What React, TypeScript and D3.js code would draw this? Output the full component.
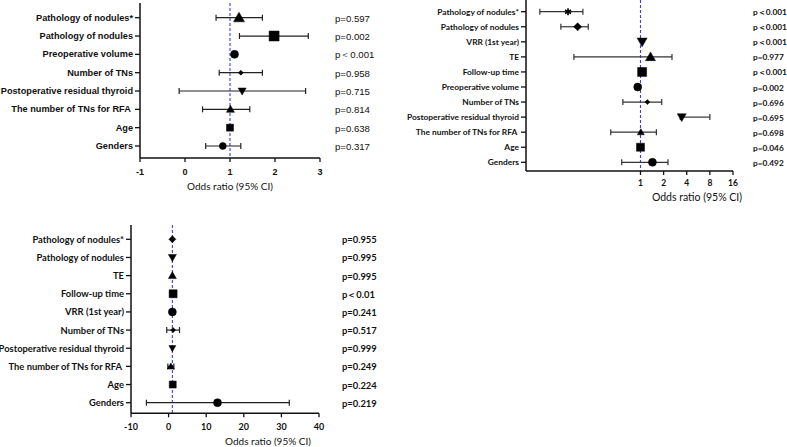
import React from "react";
import * as d3 from "d3";

// ---- Panel A: linear odds-ratio scale ----
const labelsA = [
  "Pathology of nodules*",
  "Pathology of nodules",
  "Preoperative volume",
  "Number of TNs",
  "Postoperative residual thyroid",
  "The number of TNs for RFA ",
  "Age",
  "Genders",
];
const orA = [1.2, 1.98, 1.1, 1.24, 1.27, 1.01, 1.0, 0.84];
const loA: (number | null)[] = [0.69, 1.21, null, 0.76, -0.13, 0.39, null, 0.46];
const hiA: (number | null)[] = [1.72, 2.74, null, 1.72, 2.68, 1.44, null, 1.24];
const pA = ["p=0.597", "p=0.002", "p＜0.001", "p=0.958", "p=0.715", "p=0.814", "p=0.638", "p=0.317"];
const ticksA = [-1, 0, 1, 2, 3];

// ---- Panel B: log2 odds-ratio scale ----
const labelsB = [
  "Pathology of nodules*",
  "Pathology of nodules",
  "VRR (1st year)",
  "TE",
  "Follow-up time",
  "Preoperative volume",
  "Number of TNs",
  "Postoperative residual thyroid",
  "The number of TNs for RFA ",
  "Age",
  "Genders",
];
const orB = [0.114, 0.152, 1.05, 1.35, 1.05, 0.92, 1.23, 3.44, 1.01, 1.0, 1.43];
const loB: (number | null)[] = [0.049, 0.092, null, 0.136, null, null, 0.59, 3.3, 0.41, null, 0.57];
const hiB: (number | null)[] = [0.178, 0.209, null, 2.57, null, null, 1.89, 8.0, 1.61, null, 2.28];
const pB = ["p＜0.001", "p＜0.001", "p＜0.001", "p=0.977", "p＜0.001", "p=0.002", "p=0.696", "p=0.695", "p=0.698", "p=0.046", "p=0.492"];
const ticksB = [1, 2, 4, 8, 16];

// ---- Panel C: linear odds-ratio scale, wide range ----
const labelsC = [
  "Pathology of nodules*",
  "Pathology of nodules",
  "TE",
  "Follow-up time",
  "VRR (1st year)",
  "Number of TNs",
  "Postoperative residual thyroid",
  "The number of TNs for RFA ",
  "Age",
  "Genders",
];
const orC = [1.0, 1.0, 1.0, 1.2, 1.0, 1.2, 1.0, 0.6, 1.1, 13.0];
const loC: (number | null)[] = [null, null, null, null, null, -0.5, null, -0.2, null, -5.9];
const hiC: (number | null)[] = [null, null, null, null, null, 2.9, null, 1.4, null, 32.1];
const pC = ["p=0.955", "p=0.995", "p=0.995", "p＜0.01", "p=0.241", "p=0.517", "p=0.999", "p=0.249", "p=0.224", "p=0.219"];
const ticksC = [-10, 0, 10, 20, 30, 40];

type Shape = "square" | "circle" | "triangle" | "triangleDown" | "diamond" | "asterisk";
type Marker = [Shape, number];

// marker glyph and width for each row
const markersA: Marker[] = [
  ["triangle", 11], ["square", 10], ["circle", 8], ["diamond", 5],
  ["triangleDown", 8], ["triangle", 8], ["square", 7], ["circle", 7],
];
const markersB: Marker[] = [
  ["asterisk", 7], ["diamond", 8], ["triangleDown", 10], ["triangle", 10], ["square", 9],
  ["circle", 8], ["diamond", 5], ["triangleDown", 9], ["triangle", 7], ["square", 8], ["circle", 8],
];
const markersC: Marker[] = [
  ["diamond", 7], ["triangleDown", 8], ["triangle", 8], ["square", 8], ["circle", 8],
  ["diamond", 5], ["triangleDown", 7], ["triangle", 7], ["square", 7], ["circle", 8],
];

function glyph(shape: Shape, w: number): string {
  const h = w / 2;
  switch (shape) {
    case "square":
      return `M${-h},${-h}H${h}V${h}H${-h}Z`;
    case "circle":
      return `M${-h},0A${h},${h} 0 1,0 ${h},0A${h},${h} 0 1,0 ${-h},0Z`;
    case "triangle":
      return `M0,${-h}L${h},${h * 0.75}L${-h},${h * 0.75}Z`;
    case "triangleDown":
      return `M0,${h}L${h},${-h * 0.75}L${-h},${-h * 0.75}Z`;
    case "diamond":
      return `M0,${-h}L${h},0L0,${h}L${-h},0Z`;
    case "asterisk": {
      const a = h * Math.cos(Math.PI / 6);
      const b = h * Math.sin(Math.PI / 6);
      return `M0,${-h}V${h}M${-a},${-b}L${a},${b}M${-a},${b}L${a},${-b}`;
    }
  }
}

interface PanelProps {
  labels: string[];
  or: number[];
  lo: (number | null)[];
  hi: (number | null)[];
  p: string[];
  ticks: number[];
  markers: Marker[];
  x: d3.ScaleContinuousNumeric<number, number>;
  rowTop: number;
  rowBottom: number;
  axisTop: number;
  axisY: number;
  pX: number;
  labelFont: string;
  labelSize: number;
  pFont: string;
  pSize: number;
  pWeight: string;
  tickSize: number;
  tickFont: string;
  tickLabelY: number;
  title: string;
  titleX: number;
  titleY: number;
  titleSize: number;
  barColor: string;
}

function Forest(props: PanelProps) {
  const { labels, or, lo, hi, p, ticks, markers, x } = props;
  const y = d3.scalePoint<string>().domain(labels.map((_, i) => String(i))).range([props.rowTop, props.rowBottom]);
  const [x0, x1] = x.range();
  const ref = x(1);
  return (
    <g>
      {/* reference line at OR = 1 */}
      <line x1={ref} x2={ref} y1={props.axisTop} y2={props.axisY} stroke="#3a3aff" strokeWidth={1.1} strokeDasharray="3,2" />
      {/* y axis */}
      <line x1={x0} x2={x0} y1={props.axisTop} y2={props.axisY} stroke="#111" strokeWidth={1.5} />
      {/* x axis */}
      <line x1={x0} x2={x1} y1={props.axisY} y2={props.axisY} stroke="#111" strokeWidth={1.5} />
      {ticks.map((t) => (
        <g key={t}>
          <line x1={x(t)} x2={x(t)} y1={props.axisY} y2={props.axisY + 4} stroke="#111" strokeWidth={1.3} />
          <text x={x(t)} y={props.tickLabelY} textAnchor="middle" dominantBaseline="central"
            fontFamily={props.tickFont} fontWeight="bold" fontSize={props.tickSize} fill="#111">
            {t}
          </text>
        </g>
      ))}
      {labels.map((lab, i) => {
        const cy = y(String(i)) as number;
        const [shape, w] = markers[i];
        const l = lo[i];
        const h = hi[i];
        return (
          <g key={i}>
            <line x1={x0 - 5} x2={x0} y1={cy} y2={cy} stroke="#111" strokeWidth={1.3} />
            <text x={x0 - 7} y={cy} textAnchor="end" dominantBaseline="central" style={{ whiteSpace: "pre" }}
              fontFamily={props.labelFont} fontWeight="bold" fontSize={props.labelSize} fill="#111">
              {lab}
            </text>
            {l !== null && h !== null && (
              <g stroke={props.barColor} strokeWidth={1.2}>
                <line x1={x(l)} x2={x(h)} y1={cy} y2={cy} />
                <line x1={x(l)} x2={x(l)} y1={cy - 3} y2={cy + 3} />
                <line x1={x(h)} x2={x(h)} y1={cy - 3} y2={cy + 3} />
              </g>
            )}
            <path d={glyph(shape, w)} transform={`translate(${x(or[i])},${cy})`}
              fill={shape === "asterisk" ? "none" : "#000"} stroke="#000"
              strokeWidth={shape === "asterisk" ? 1.6 : 0.5} />
            <text x={props.pX} y={cy + 0.5} dominantBaseline="central" style={{ whiteSpace: "pre" }}
              fontFamily={props.pFont} fontWeight={props.pWeight} fontSize={props.pSize} fill="#111">
              {p[i]}
            </text>
          </g>
        );
      })}
      <text x={props.titleX} y={props.titleY} textAnchor="middle" dominantBaseline="central"
        fontFamily="Lato, 'DejaVu Sans', sans-serif" fontSize={props.titleSize} fill="#111">
        {props.title}
      </text>
    </g>
  );
}

export default function App() {
  const xA = d3.scaleLinear().domain([-1, 3]).range([140, 320]);
  const xB = d3.scaleLog().base(2).domain([Math.pow(2, -4.95), 16]).range([526, 733]);
  const xC = d3.scaleLinear().domain([-10, 40]).range([131, 319]);
  const arial = "'Liberation Sans', Arial, sans-serif";
  const lato = "Lato, 'Noto Sans', sans-serif";
  return (
    <svg width={787} height={447} style={{ position: "absolute", left: 0, top: 0, background: "#fff" }}>
      <rect width={787} height={447} fill="#fff" />
      <Forest labels={labelsA} or={orA} lo={loA} hi={hiA} p={pA} ticks={ticksA} markers={markersA} x={xA}
        rowTop={17.7} rowBottom={146} axisTop={3} axisY={158} pX={335}
        labelFont={arial} labelSize={9.2} pFont={arial} pSize={9.6} pWeight="normal"
        tickFont={arial} tickSize={9} tickLabelY={171.5}
        title="Odds ratio (95% CI)" titleX={230} titleY={186} titleSize={10} barColor="#222" />
      <Forest labels={labelsB} or={orB} lo={loB} hi={hiB} p={pB} ticks={ticksB} markers={markersB} x={xB}
        rowTop={11.7} rowBottom={162.3} axisTop={0} axisY={171} pX={753}
        labelFont={lato} labelSize={8.4} pFont={lato} pSize={8.3} pWeight="bold"
        tickFont={lato} tickSize={8.5} tickLabelY={182.7}
        title="Odds ratio (95% CI)" titleX={697} titleY={196.7} titleSize={10.5} barColor="#333" />
      <Forest labels={labelsC} or={orC} lo={loC} hi={hiC} p={pC} ticks={ticksC} markers={markersC} x={xC}
        rowTop={239.3} rowBottom={402.7} axisTop={225} axisY={413.3} pX={342}
        labelFont={lato} labelSize={9.4} pFont={lato} pSize={9.4} pWeight="bold"
        tickFont={lato} tickSize={9} tickLabelY={426}
        title="Odds ratio (95% CI)" titleX={268} titleY={441} titleSize={10} barColor="#222" />
    </svg>
  );
}
